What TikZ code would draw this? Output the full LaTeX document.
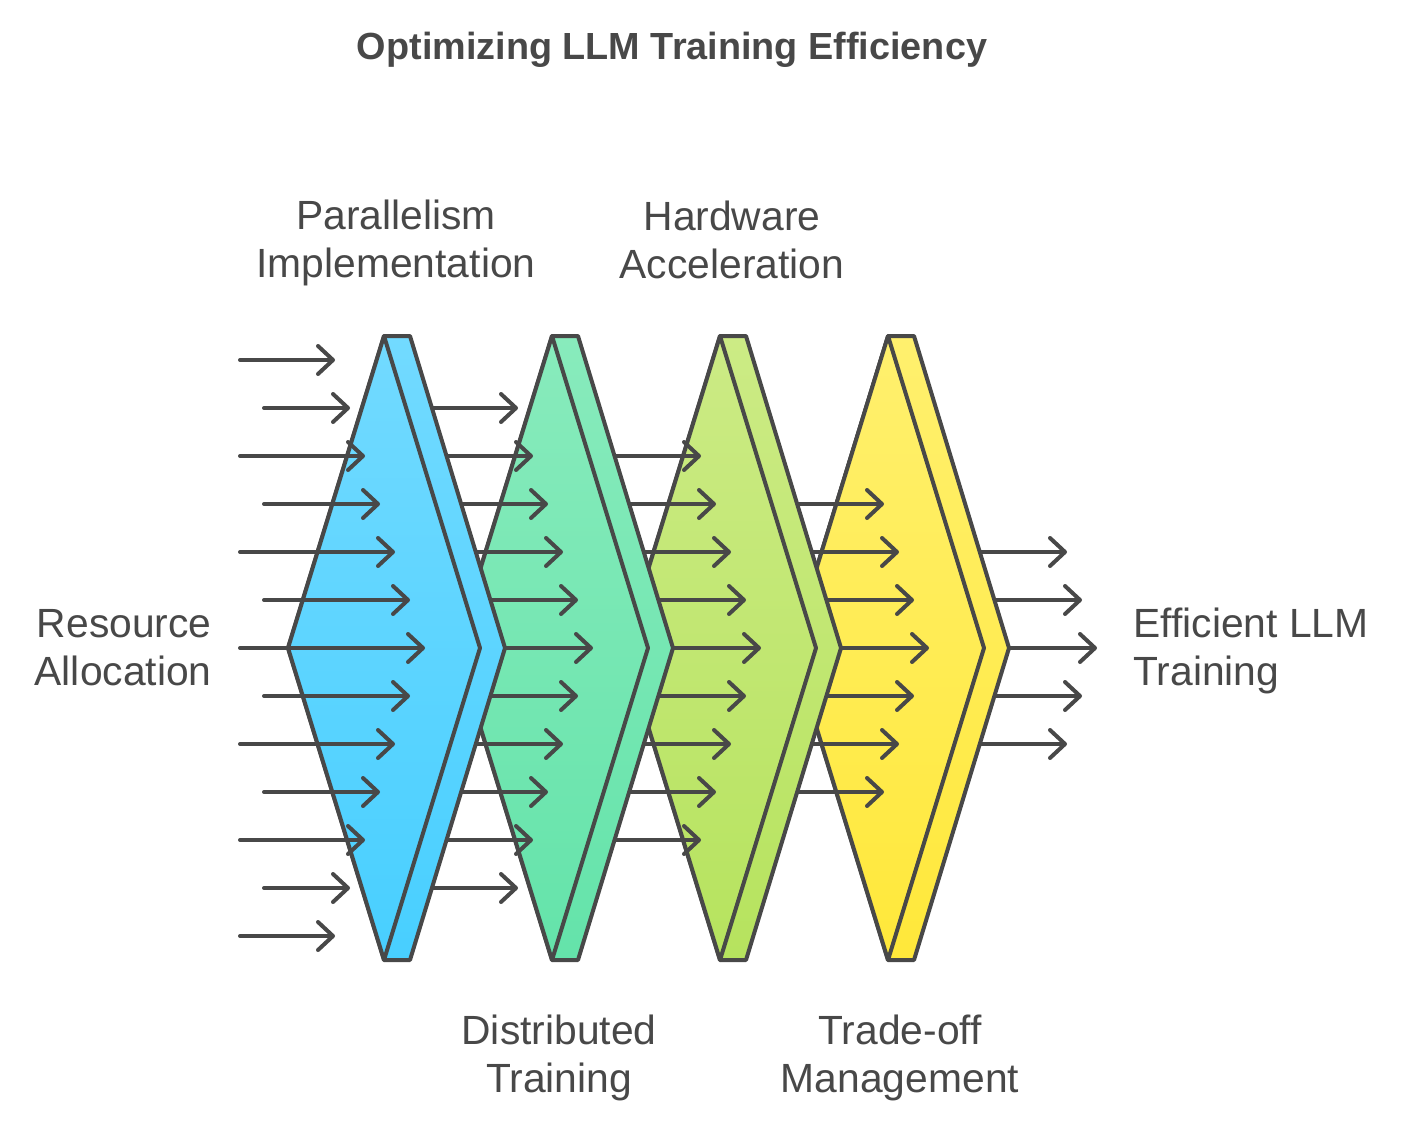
\documentclass[tikz,border=0pt]{standalone}
\usepackage{fontspec}
\setmainfont{Liberation Sans}
\usetikzlibrary{arrows.meta}
\definecolor{ink}{HTML}{484848}
\definecolor{blueT}{HTML}{72DAFF}
\definecolor{blueB}{HTML}{48CFFF}
\definecolor{greenT}{HTML}{88EBBC}
\definecolor{greenB}{HTML}{64E3AA}
\definecolor{limeT}{HTML}{CCEB85}
\definecolor{limeB}{HTML}{B6E35E}
\definecolor{yellowT}{HTML}{FFF06E}
\definecolor{yellowB}{HTML}{FFE83A}
\tikzstyle{flow}=[ink, line width=2pt, line cap=round, -{Straight Barb[length=7.5pt,width=14pt,round]}]
\tikzstyle{stagebox}=[draw=ink, line width=2pt, line join=round]
\tikzstyle{tagtext}=[ink, inner sep=0pt, font=\fontsize{20.4}{24}\selectfont]
\tikzstyle{headtext}=[ink, inner sep=0pt, font=\fontsize{18.9}{22}\selectfont\bfseries]
\newcommand\chevron[3]{%
    \draw[stagebox, top color=#2, bottom color=#3] (#1,336) -- (#1+26,336) -- (#1+121,648) -- (#1+26,960) -- (#1,960) -- (#1-96,648) -- cycle;
    \draw[stagebox, top color=#2, bottom color=#3] (#1,336) -- (#1+96,648) -- (#1,960) -- (#1-96,648) -- cycle;
}
\begin{document}
\begin{tikzpicture}[x=0.5pt, y=-0.5pt]
\useasboundingbox (0,0) rectangle (1416,1128);
% Chevrons, right to left, each with the arrows leaving it
    \foreach \i/\ctop/\cbot in {4/yellowT/yellowB, 3/limeT/limeB, 2/greenT/greenB, 1/blueT/blueB} {
        \pgfmathtruncatemacro\last{12-\i}
        \foreach \k in {\i,...,\last} {
            \pgfmathsetmacro\tip{335+15*(6-abs(\k-6))+168*\i}
            \draw[flow] (216+168*\i,360+48*\k) -- (\tip,360+48*\k);
        }
        \chevron{216+168*\i}{\ctop}{\cbot}
    }
% Incoming arrows
    \foreach \k in {0,...,12} {
        \pgfmathsetmacro\tip{335+15*(6-abs(\k-6))}
        \pgfmathsetmacro\start{240+24*mod(\k,2)}
        \draw[flow] (\start,360+48*\k) -- (\tip,360+48*\k);
    }
% Texts
    \node[headtext] (title) at (672,50) {Optimizing LLM Training Efficiency};
    \node[tagtext, align=right, anchor=east] (resource) at (212,648) {Resource\\Allocation};
    \node[tagtext, align=center] (parallel) at (396,243) {Parallelism\\Implementation};
    \node[tagtext, align=center] (distrib) at (559,1058) {Distributed\\Training};
    \node[tagtext, align=center] (hardware) at (732,240) {Hardware\\Acceleration};
    \node[tagtext, align=center] (tradeoff) at (900,1058) {Trade-off\\Management};
    \node[tagtext, align=left, anchor=west] (efficient) at (1133,651) {Efficient LLM\\Training};
\end{tikzpicture}
\end{document}
